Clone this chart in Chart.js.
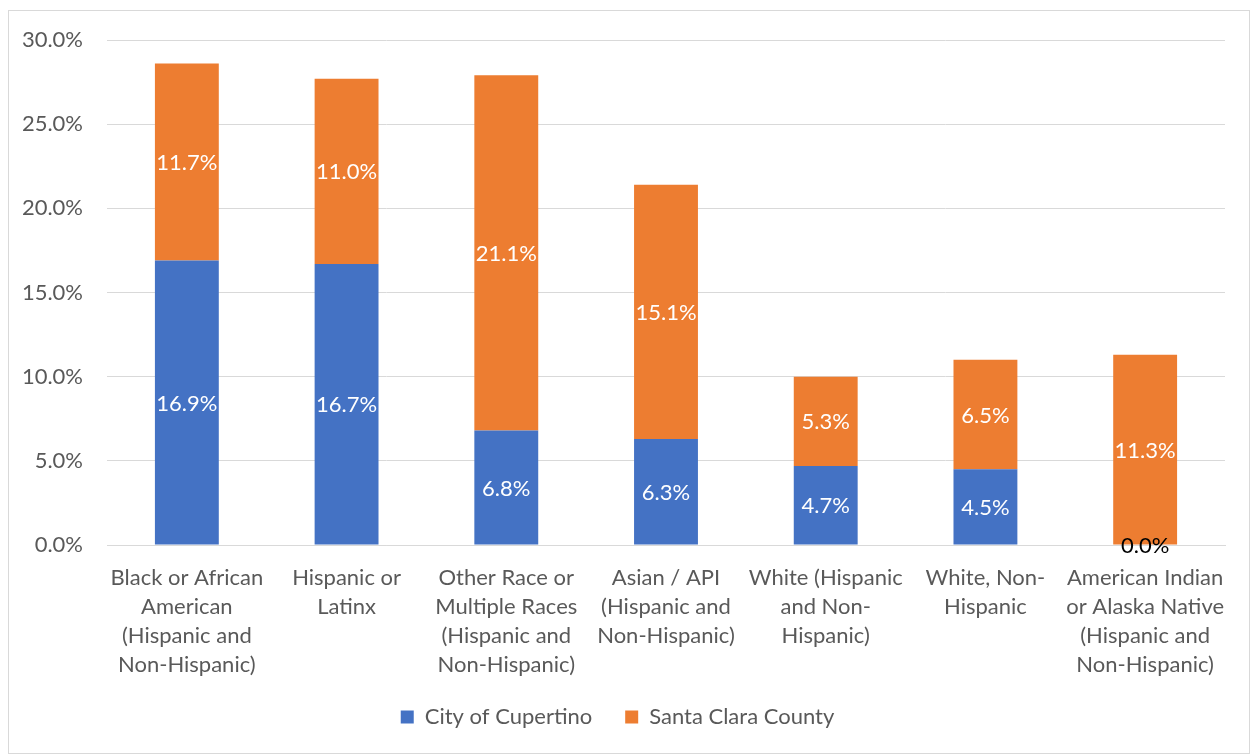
<!DOCTYPE html>
<html>
<head>
<meta charset="utf-8">
<script src="https://cdn.jsdelivr.net/npm/chart.js@4/dist/chart.umd.min.js"></script>
<style>
html,body{margin:0;padding:0;background:#fff;}
#wrap{position:absolute;left:0;top:0;width:1252px;height:756px;}
#frame{position:absolute;left:8px;top:10px;width:1242px;height:744px;border:1px solid #d9d9d9;box-sizing:border-box;pointer-events:none;}
</style>
</head>
<body>
<div id="wrap"><canvas id="c" width="1252" height="756"></canvas></div>
<div id="frame"></div>
<script>
const categories = [
  ["Black or African","American","(Hispanic and","Non-Hispanic)"],
  ["Hispanic or","Latinx"],
  ["Other Race or","Multiple Races","(Hispanic and","Non-Hispanic)"],
  ["Asian / API","(Hispanic and","Non-Hispanic)"],
  ["White (Hispanic","and Non-","Hispanic)"],
  ["White, Non-","Hispanic"],
  ["American Indian","or Alaska Native","(Hispanic and","Non-Hispanic)"]
];
const cupertino = [16.9, 16.7, 6.8, 6.3, 4.7, 4.5, 0.0];
const santaClara = [11.7, 11.0, 21.1, 15.1, 5.3, 6.5, 11.3];
const seriesNames = ["City of Cupertino", "Santa Clara County"];
const yTicks = [0, 5, 10, 15, 20, 25, 30];

const FONT = "Lato, 'Open Sans', sans-serif";
const TXT = "#595959";
const FS = 22;

const labelPlugin = {
  id: 'barLabels',
  beforeDraw(chart) {
    // let the x tick labels extend below the scale box without clipping
    if (chart.scales.x) chart.scales.x._computeLabelArea = () => undefined;
  },
  afterDatasetsDraw(chart) {
    const ctx = chart.ctx;
    ctx.save();
    ctx.font = FS + "px " + FONT;
    ctx.textAlign = 'center';
    ctx.textBaseline = 'middle';
    chart.data.datasets.forEach((ds, di) => {
      const meta = chart.getDatasetMeta(di);
      meta.data.forEach((bar, i) => {
        const v = ds.data[i];
        const y = (bar.y + bar.base) / 2;
        ctx.fillStyle = v === 0 ? '#000000' : '#ffffff';
        ctx.fillText(v.toFixed(1) + '%', bar.x, y + 1);
      });
    });
    ctx.restore();
  }
};

new Chart(document.getElementById('c'), {
  type: 'bar',
  data: {
    labels: categories,
    datasets: [
      { label: seriesNames[0], data: cupertino, backgroundColor: '#4472c4', barPercentage: 0.8, categoryPercentage: 0.5 },
      { label: seriesNames[1], data: santaClara, backgroundColor: '#ed7d31', barPercentage: 0.8, categoryPercentage: 0.5 }
    ]
  },
  options: {
    responsive: false,
    animation: false,
    layout: { padding: { left: 10, right: 27, top: 40, bottom: 18 } },
    plugins: {
      legend: {
        position: 'bottom',
        labels: { font: { family: FONT, size: FS }, color: TXT, boxWidth: 13, boxHeight: 13, padding: 33 },
      },
      tooltip: { enabled: false }
    },
    scales: {
      x: {
        stacked: true,
        grid: { display: false, drawTicks: false },
        border: { color: '#d9d9d9' },
        ticks: { font: { family: FONT, size: FS, lineHeight: 1.32 }, color: TXT, padding: 18, maxRotation: 0, autoSkip: false },
        afterFit(s) { s.height = 128; }
      },
      y: {
        stacked: true,
        min: 0, max: 30,
        afterBuildTicks(s) { s.ticks = yTicks.map(v => ({ value: v })); },
        grid: { color: '#d9d9d9', drawTicks: false },
        border: { display: false },
        ticks: { font: { family: FONT, size: FS }, color: TXT, padding: 24, callback: v => v.toFixed(1) + '%' },
        afterFit(s) { s.width = 97; }
      }
    }
  },
  plugins: [labelPlugin]
});
</script>
</body>
</html>
